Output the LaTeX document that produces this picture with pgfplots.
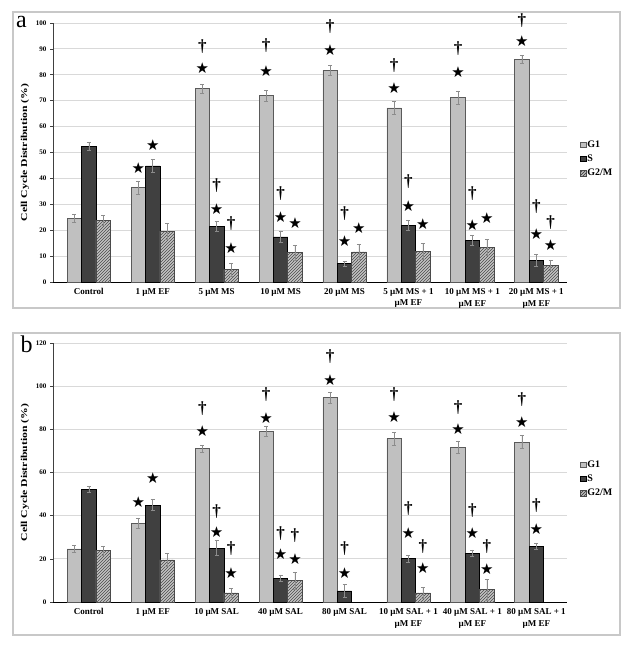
\documentclass[border=0pt]{standalone}
\usepackage{graphicx}
\usepackage{pgfplots}
\pgfplotsset{compat=1.18}
\usepackage{pgfplotstable}
\usepackage{fontspec}
\setmainfont{Liberation Serif}
\newfontfamily\symfont{DejaVu Sans}
\usetikzlibrary{patterns}
\definecolor{gOne}{HTML}{C0C0C0}
\definecolor{gOneB}{HTML}{5A5A5A}
\definecolor{sDark}{HTML}{404040}
\definecolor{gTwo}{HTML}{C4C4C4}
\definecolor{hatch}{HTML}{4A4A4A}
\definecolor{gridc}{HTML}{D9D9D9}
\definecolor{framec}{HTML}{C8C8C8}
\definecolor{errc}{HTML}{8C8C8C}
\newcommand{\starsym}{{\symfont\fontsize{15}{15}\selectfont ★}}
\newcommand{\dagsym}{{\fontsize{17}{17}\selectfont\bfseries\textdagger}}

\pgfplotstableread{
x G1 G1e S Se G2 G2e
0 24.5 1.5 52.4 1.5 23.8 2.0
1 36.4 2.5 44.8 2.5 19.6 3.0
2 74.6 1.8 21.5 2.0 4.8 2.5
3 71.9 2.0 17.4 2.0 11.3 3.0
4 81.7 2.0 7.1 1.0 11.6 3.0
5 67.2 2.5 21.8 2.0 11.8 3.0
6 71.3 2.5 16.1 2.0 13.5 3.0
7 86.0 1.5 8.4 2.5 6.4 2.0
}\dataA
\pgfplotstableread{
x G1 G1e S Se G2 G2e
0 24.6 1.5 52.2 1.5 23.8 2.0
1 36.5 2.5 44.9 2.5 19.5 3.0
2 71.0 1.5 25.0 3.5 4.2 2.0
3 79.1 2.5 11.1 1.5 10.0 4.0
4 94.7 2.5 5.1 3.0 nan nan
5 75.7 3.0 20.1 1.5 4.2 2.5
6 71.7 3.0 22.7 1.5 5.7 5.0
7 74.1 3.0 25.8 1.5 nan nan
}\dataB
\pgfplotstableread{
x y
0.775 43.8
1 52.8
1.775 82.4
2 28.3
2.225 12.9
2.775 81.3
3 25.1
3.225 22.8
3.775 89.4
4 15.8
4.225 20.8
4.775 75.0
5 29.2
5.225 22.5
5.775 81.1
6 21.9
6.225 24.5
6.775 93.1
7 18.3
7.225 14.2
}\starA
\pgfplotstableread{
x y
1.775 90.7
2 37.3
2.225 22.5
2.775 91.4
3 34.1
3.775 98.5
4 26.4
4.775 83.7
5 38.6
5.775 90.1
6 34.1
6.775 101.0
7 29.0
7.225 22.8
}\dagA
\pgfplotstableread{
x y
0.775 46.3
1 57.6
1.775 79.1
2 32.4
2.225 13.6
2.775 85.4
3 22.4
3.225 19.8
3.775 102.7
4 13.6
4.775 85.7
5 32.1
5.225 15.9
5.775 80.3
6 31.7
6.225 15.4
6.775 83.4
7 33.7
}\starB
\pgfplotstableread{
x y
1.775 89.6
2 41.7
2.225 24.7
2.775 96.2
3 31.7
3.225 30.9
3.775 113.5
4 24.7
4.775 96.2
5 43.2
5.225 25.9
5.775 90.3
6 42.5
6.225 25.5
6.775 93.7
7 44.8
}\dagB

\pgfplotsset{
  panel/.style={
    scale only axis, width=514pt, height=259pt,
    xmin=-0.56, xmax=7.48, ymin=0,
    clip=false,
    axis lines*=left,
    axis line style={-},
    x axis line style={black, line width=0.9pt},
    y axis line style={black!75, line width=0.9pt},
    xtick={0,...,7},
    xtick style={draw=none},
    ytick style={black!75, line width=0.6pt},
    tick align=outside, major tick length=3pt,
    ymajorgrids, grid style={gridc, line width=0.8pt},
    /pgf/number format/assume math mode=true,
    yticklabel style={font=\bfseries\fontsize{7}{8}\selectfont},
    xticklabel style={font=\bfseries\fontsize{9}{11.5}\selectfont, align=center},
    ylabel={\scalebox{1.3}[1]{Cell Cycle Distribution (\%)}},
    ylabel style={font=\bfseries\fontsize{9}{10}\selectfont},
    legend style={at={(1.025,0.55)}, anchor=north west, draw=none, fill=none,
      font=\bfseries\fontsize{10}{11}\selectfont, row sep=4pt, inner sep=0pt,
      nodes={inner sep=1pt}},
    legend cell align=left,
  },
  g1bar/.style={ybar, bar width=0.225, bar shift=0pt, fill=gOne, draw=gOneB, line width=0.7pt,
    legend image code/.code={\draw[fill=gOne, draw=gOneB, line width=0.6pt] (0pt,-2.8pt) rectangle (5.6pt,2.8pt);}},
  sbar/.style={ybar, bar width=0.225, bar shift=0pt, fill=sDark, draw=black, line width=0.7pt,
    legend image code/.code={\draw[fill=sDark, draw=black, line width=0.6pt] (0pt,-2.8pt) rectangle (5.6pt,2.8pt);}},
  g2bar/.style={ybar, bar width=0.225, bar shift=0pt, fill=gTwo, draw=hatch, line width=0.7pt,
    postaction={pattern=north east lines, pattern color=hatch},
    legend image code/.code={\draw[fill=gTwo, draw=hatch, line width=0.6pt, postaction={pattern=north east lines, pattern color=hatch}] (0pt,-2.8pt) rectangle (5.6pt,2.8pt);}},
  errs/.style={error bars/.cd, y dir=both, y explicit,
    error bar style={errc, line width=0.5pt},
    error mark options={rotate=90, mark size=2pt, errc, line width=0.5pt}},
  annot/.style={forget plot, draw=none, mark=none, nodes near coords={#1},
    every node near coord/.append style={anchor=center, inner sep=0pt, text=black}},
}

\begin{document}
\begin{tikzpicture}
\path (0pt,0pt) rectangle (631pt,645pt);
\draw[framec, line width=1.2pt] (13pt,337pt) rectangle (620pt,633pt);
\draw[framec, line width=1.2pt] (13pt,10pt) rectangle (620pt,312pt);
\node[font=\fontsize{24}{24}\selectfont, anchor=base] at (21.5pt,617pt) {a};
\node[font=\fontsize{24}{24}\selectfont, anchor=base] at (26.5pt,292pt) {b};

\begin{axis}[panel, at={(53pt,363pt)}, anchor=south west,
  ymax=100, ytick={0,10,...,100},
  xticklabels={Control, 1 µM EF, 5 µM MS, 10 µM MS, 20 µM MS,
    {5 µM MS + 1\\µM EF}, {10 µM MS + 1\\µM EF}, {20 µM MS + 1\\µM EF}}]
\addplot[g1bar, errs] table[x expr=\thisrow{x}-0.225, y=G1, y error=G1e] {\dataA};
\addplot[sbar, errs] table[x=x, y=S, y error=Se] {\dataA};
\addplot[g2bar, errs] table[x expr=\thisrow{x}+0.225, y=G2, y error=G2e] {\dataA};
\addplot[annot={\starsym}] table[x=x, y=y] {\starA};
\addplot[annot={\dagsym}] table[x=x, y=y] {\dagA};
\legend{G1, S, G2/M}
\end{axis}

\begin{axis}[panel, at={(53pt,43pt)}, anchor=south west,
  ymax=120, ytick={0,20,...,120},
  xticklabels={Control, 1 µM EF, 10 µM SAL, 40 µM SAL, 80 µM SAL,
    {10 µM SAL + 1\\µM EF}, {40 µM SAL + 1\\µM EF}, {80 µM SAL + 1\\µM EF}}]
\addplot[g1bar, errs] table[x expr=\thisrow{x}-0.225, y=G1, y error=G1e] {\dataB};
\addplot[sbar, errs] table[x=x, y=S, y error=Se] {\dataB};
\addplot[g2bar, errs] table[x expr=\thisrow{x}+0.225, y=G2, y error=G2e] {\dataB};
\addplot[annot={\starsym}] table[x=x, y=y] {\starB};
\addplot[annot={\dagsym}] table[x=x, y=y] {\dagB};
\legend{G1, S, G2/M}
\end{axis}
\end{tikzpicture}
\end{document}
